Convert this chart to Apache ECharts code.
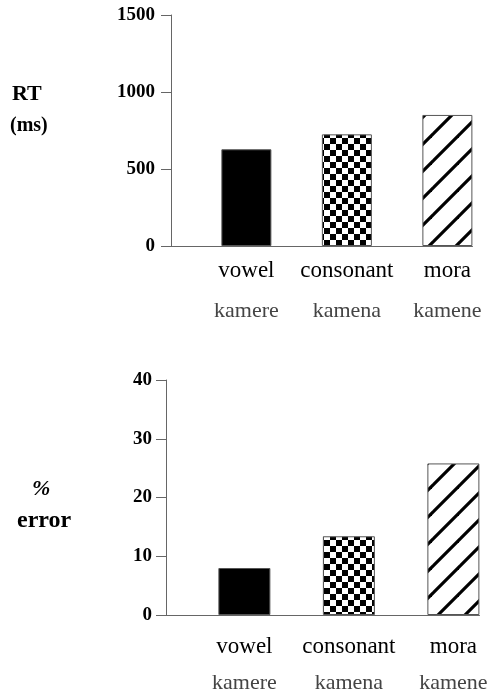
<!DOCTYPE html>
<html><head><meta charset="utf-8">
<script src="https://cdn.jsdelivr.net/npm/echarts@6/dist/echarts.min.js"></script>
<style>html,body{margin:0;padding:0;background:#fff}#c{width:495px;height:698px}</style>
</head><body><div id="c"></div>
<script>
const categories = ['vowel', 'consonant', 'mora'];
const words = ['kamere', 'kamena', 'kamene'];
const rtValues = [628, 725, 851];
const errorValues = [8.0, 13.4, 25.8];
const rtTicks = [0, 500, 1000, 1500];
const errTicks = [0, 10, 20, 30, 40];

function checker() {
  const c = document.createElement('canvas'); c.width = 12; c.height = 12;
  const g = c.getContext('2d');
  g.fillStyle = '#fff'; g.fillRect(0, 0, 12, 12);
  g.fillStyle = '#000'; g.fillRect(0, 0, 6, 6); g.fillRect(6, 6, 6, 6);
  return c;
}
function hatch() {
  const s = 27;
  const c = document.createElement('canvas'); c.width = s; c.height = s;
  const g = c.getContext('2d');
  g.fillStyle = '#fff'; g.fillRect(0, 0, s, s);
  g.strokeStyle = '#000'; g.lineWidth = 3.2;
  for (const k of [-s, 0, s]) { g.beginPath(); g.moveTo(k - 2, s + 2); g.lineTo(k + s + 2, -2); g.stroke(); }
  return c;
}
const fills = [
  '#000',
  { image: checker(), repeat: 'repeat' },
  { image: hatch(), repeat: 'repeat' }
];
const serif = 'Liberation Serif';

function makeX(gridIndex, lh, margin) {
  return {
    type: 'value', gridIndex, min: -0.75, max: 2.25,
    splitLine: { show: false },
    axisLine: { show: true, onZero: false, lineStyle: { color: '#666', width: 1 } },
    axisTick: { show: false },
    axisLabel: {
      customValues: [0, 1, 2], margin,
      formatter: v => '{a|' + categories[Math.round(v)] + '}\n{b|' + words[Math.round(v)] + '}',
      rich: {
        a: { fontFamily: serif, fontSize: 23, color: '#000', lineHeight: lh },
        b: { fontFamily: serif, fontSize: 22, color: '#444', lineHeight: lh }
      }
    }
  };
}
function makeY(gridIndex, ticks, margin) {
  return {
    type: 'value', gridIndex, min: 0, max: ticks[ticks.length - 1], interval: ticks[1] - ticks[0],
    splitLine: { show: false },
    axisLine: { show: true, onZero: false, lineStyle: { color: '#666', width: 1 } },
    axisTick: { show: true, length: 10, lineStyle: { color: '#666' } },
    axisLabel: { fontFamily: serif, fontWeight: 'bold', fontSize: 19, color: '#000', margin, formatter: v => String(v) }
  };
}
function makeSeries(idx, vals) {
  return {
    type: 'bar', xAxisIndex: idx, yAxisIndex: idx, barWidth: idx === 0 ? 50 : 52,
    data: vals.map((v, i) => ({ value: [i, v], itemStyle: { color: fills[i], borderColor: '#555', borderWidth: 1 } })),
    silent: true
  };
}

const chart = echarts.init(document.getElementById('c'));
chart.setOption({
  animation: false,
  backgroundColor: '#fff',
  grid: [
    { left: 171, right: 22.5, top: 15, bottom: 452 },
    { left: 166, right: 15.5, top: 380, bottom: 83 }
  ],
  xAxis: [makeX(0, 40, 5), makeX(1, 36, 14)],
  yAxis: [makeY(0, rtTicks, 16), makeY(1, errTicks, 14)],
  series: [makeSeries(0, rtValues), makeSeries(1, errorValues)],
  graphic: [
    { type: 'text', left: 12, top: 83, style: { text: 'RT', font: 'bold 22px "Liberation Serif"', fill: '#000' } },
    { type: 'text', left: 10, top: 116, style: { text: '(ms)', font: 'bold 20px "Liberation Serif"', fill: '#000' } },
    { type: 'text', left: 32, top: 478, style: { text: '%', font: 'bold italic 22px "Liberation Serif"', fill: '#000' } },
    { type: 'text', left: 17, top: 509, style: { text: 'error', font: 'bold 24px "Liberation Serif"', fill: '#000' } }
  ]
});
</script></body></html>
